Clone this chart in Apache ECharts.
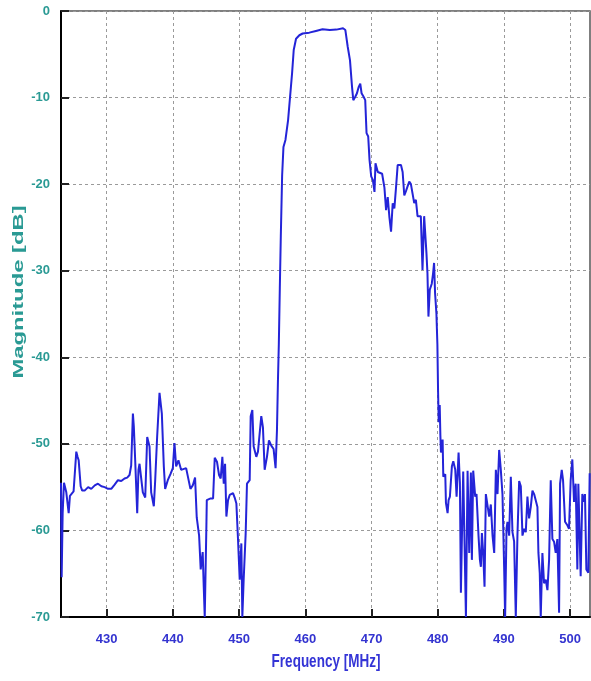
<!DOCTYPE html>
<html><head><meta charset="utf-8">
<script src="https://cdn.jsdelivr.net/npm/echarts@6/dist/echarts.min.js"></script>
<style>html,body{margin:0;padding:0;background:#fff}#c{width:591px;height:681px}</style>
</head><body><div id="c"></div><script>
const freqMHz = [
423.10,423.20,423.35,423.55,423.90,424.26,424.45,424.66,425.00,425.41,425.60,425.77,426.07,426.30,426.67,427.20,427.67,428.20,428.68,429.20,
429.69,430.20,430.69,431.20,431.70,432.20,432.70,433.10,433.45,433.70,433.96,434.10,434.31,434.61,434.80,434.96,435.20,435.46,435.82,436.12,
436.47,436.72,437.12,437.32,437.62,437.98,438.33,438.63,438.83,439.23,439.63,439.99,440.24,440.49,440.84,441.24,442.00,442.30,442.65,443.00,
443.35,443.60,443.96,444.20,444.50,444.66,444.81,444.95,445.06,445.12,445.70,446.07,446.32,446.67,446.97,447.22,447.47,447.68,447.88,448.08,
448.33,448.58,449.08,449.33,449.59,449.84,450.09,450.34,450.49,450.69,450.99,451.19,451.60,451.75,452.00,452.20,452.60,452.85,453.10,453.35,
453.60,453.86,454.21,454.51,454.86,455.21,455.51,455.72,455.87,456.00,456.15,456.30,456.50,456.70,457.00,457.40,457.70,458.00,458.25,458.60,
459.10,459.60,460.60,461.60,462.60,463.70,464.70,465.70,466.05,466.40,466.75,467.05,467.25,467.55,467.80,468.05,468.30,468.50,468.80,469.05,
469.25,469.50,469.70,469.95,470.20,470.45,470.60,470.95,471.20,471.60,471.95,472.20,472.45,472.70,472.95,473.20,473.45,473.70,473.95,474.20,
474.45,474.70,474.95,475.20,475.45,475.70,475.95,476.20,476.45,476.70,476.95,477.20,477.45,477.70,477.95,478.10,478.30,478.45,478.60,478.80,
479.10,479.30,479.45,479.60,479.80,479.95,480.05,480.15,480.30,480.40,480.49,480.74,480.84,481.14,481.24,481.49,481.64,481.84,482.14,482.35,
482.65,482.85,483.15,483.35,483.50,483.65,483.85,484.00,484.26,484.51,484.76,485.01,485.16,485.36,485.66,485.86,486.16,486.37,486.52,486.67,
486.87,487.07,487.27,487.52,487.77,488.02,488.28,488.53,488.78,489.03,489.28,489.53,489.78,490.03,490.18,490.39,490.54,490.79,491.04,491.29,
491.54,491.79,492.04,492.30,492.55,492.80,493.05,493.30,493.55,493.80,494.05,494.31,494.56,494.81,495.06,495.21,495.41,495.56,495.81,496.06,
496.32,496.57,496.82,497.07,497.32,497.57,497.82,498.07,498.33,498.48,498.73,498.93,499.23,499.58,499.83,500.08,500.33,500.59,500.84,501.09,
501.24,501.59,501.84,502.09,502.24,502.45,502.75,502.95
];
const magDB = [
-54.5,-65.4,-58.0,-54.5,-55.6,-58.0,-56.0,-55.9,-55.5,-50.9,-51.5,-51.9,-54.9,-55.4,-55.4,-55.0,-55.2,-54.8,-54.6,-54.9,
-55.0,-55.2,-55.2,-54.7,-54.2,-54.3,-54.0,-53.9,-53.6,-52.5,-46.5,-48.0,-52.0,-58.0,-53.0,-52.3,-52.1,-55.6,-56.2,-49.2,
-50.3,-55.6,-57.2,-54.3,-49.2,-44.1,-46.5,-52.6,-55.2,-54.2,-53.5,-52.8,-49.9,-52.6,-51.9,-53.0,-52.8,-52.6,-55.2,-54.8,
-53.9,-58.5,-60.6,-64.5,-62.5,-66.5,-70,-70,-59.5,-56.5,-56.3,-56.3,-51.6,-52.1,-53.6,-54.0,-51.5,-54.6,-52.3,-58.4,
-56.5,-55.9,-55.7,-56.2,-56.9,-61.1,-65.7,-61.5,-70,-65.7,-60.4,-54.6,-54.2,-46.8,-46.1,-50.3,-51.5,-50.9,-50.7,-46.8,
-48.1,-53.0,-51.5,-49.6,-50.2,-50.6,-52.8,-48.4,-42.6,-38.5,-32.0,-26.0,-19.0,-15.7,-14.9,-12.6,-9.9,-7.2,-4.5,-3.2,
-2.8,-2.6,-2.5,-2.3,-2.1,-2.2,-2.15,-2.0,-2.2,-4.1,-5.7,-8.7,-10.3,-9.9,-9.5,-8.8,-8.4,-9.5,-9.9,-10.3,
-14.1,-14.5,-17.2,-19.1,-19.5,-20.9,-17.6,-18.6,-18.4,-18.8,-20.4,-23.0,-21.5,-23.8,-25.5,-22.2,-22.8,-20.4,-17.8,-17.6,
-17.8,-18.6,-21.3,-20.8,-20.6,-19.7,-20.0,-21.1,-22.2,-21.8,-23.7,-23.9,-23.7,-29.9,-23.7,-23.7,-28.0,-30.3,-35.3,-32.2,
-31.5,-30.3,-29.1,-32.6,-34.9,-38.5,-43.8,-47.5,-45.5,-49.0,-51.0,-49.5,-53.8,-53.5,-56.8,-58.0,-56.5,-56.1,-52.6,-52.0,
-53.0,-56.1,-51.0,-54.5,-67.2,-61.0,-53.2,-53.1,-70,-53.1,-62.6,-53.3,-63.4,-53.1,-56.1,-55.8,-60.6,-63.4,-64.2,-60.3,
-62.6,-66.5,-55.8,-55.8,-58.4,-57.0,-60.6,-62.6,-53.0,-55.8,-50.7,-53.0,-55.8,-64.2,-70,-59.8,-59.0,-60.6,-53.8,-60.2,
-61.3,-70,-60.6,-54.3,-54.9,-60.6,-59.8,-60.2,-56.1,-58.6,-57.3,-55.4,-55.8,-55.6,-57.3,-62.6,-64.9,-70,-62.6,-66.1,
-65.7,-66.9,-63.4,-54.2,-61.0,-61.3,-62.6,-61.0,-69.5,-54.6,-53.0,-54.2,-59.0,-59.4,-59.8,-54.2,-51.8,-56.7,-54.6,-64.5,
-54.6,-65.3,-55.8,-56.7,-55.8,-64.5,-64.9,-53.4
];
const xTicks = [430, 440, 450, 460, 470, 480, 490, 500];
const yMin = -70, yMax = 0, yStep = 10;
const xMin = 423.1, xMax = 503;
const xTitle = 'Frequency [MHz]';
const yTitle = 'Magnitude [dB]';

const seriesData = freqMHz.map((f, i) => [f, magDB[i]]);
const fam = '"Liberation Sans", Arial, sans-serif';

const chart = echarts.init(document.getElementById('c'), null, {renderer: 'canvas'});
chart.setOption({
  animation: false,
  backgroundColor: '#fff',
  grid: {left: 61, right: 1, top: 11, bottom: 64, show: true, borderColor: '#555', borderWidth: 1.5,
         containLabel: false, outerBoundsMode: 'none'},
  xAxis: {
    type: 'value', min: xMin, max: xMax,
    axisLine: {onZero: false, lineStyle: {color: '#000', width: 2}},
    axisTick: {inside: true, length: 8, customValues: xTicks, lineStyle: {color: '#222', width: 2}},
    axisLabel: {customValues: xTicks, color: '#3434d0', fontWeight: 'bold', fontSize: 13, fontFamily: fam, margin: 16},
    splitLine: {show: true, lineStyle: {type: [3, 3], color: '#9a9a9a', width: 1}}
  },
  yAxis: {
    type: 'value', min: yMin, max: yMax, interval: yStep,
    axisLine: {onZero: false, lineStyle: {color: '#000', width: 2}},
    axisTick: {inside: true, length: 8, lineStyle: {color: '#222', width: 2}},
    axisLabel: {color: '#2a9a94', fontWeight: 'bold', fontSize: 13, fontFamily: fam, margin: 11},
    splitLine: {show: true, lineStyle: {type: [3, 3], color: '#9a9a9a', width: 1}}
  },
  graphic: [
    {type: 'text', x: 19, y: 292, rotation: Math.PI / 2, scaleX: 1.7,
     style: {text: yTitle, font: 'bold 14px ' + fam, fill: '#2a9a94', align: 'center', verticalAlign: 'middle',
             textAlign: 'center', textVerticalAlign: 'middle'}},
    {type: 'text', x: 326, y: 662, scaleY: 1.3,
     style: {text: xTitle, font: 'bold 13.5px ' + fam, fill: '#3434d6', align: 'center', verticalAlign: 'middle',
             textAlign: 'center', textVerticalAlign: 'middle'}}
  ],
  series: [{
    type: 'line', data: seriesData, showSymbol: false, clip: true,
    lineStyle: {color: '#2424d8', width: 2}
  }]
});
</script></body></html>
